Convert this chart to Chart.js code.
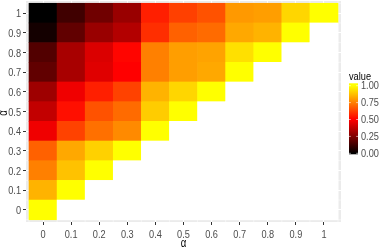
<!DOCTYPE html>
<html>
<head>
<meta charset="utf-8">
<script src="https://cdn.jsdelivr.net/npm/chart.js@4.4.1/dist/chart.umd.min.js"></script>
<style>
  html, body { margin: 0; padding: 0; background: #fff; }
</style>
</head>
<body>
<canvas id="heat" width="382" height="249"></canvas>
<script>
// alpha values on both axes
const alphas = [0, 0.1, 0.2, 0.3, 0.4, 0.5, 0.6, 0.7, 0.8, 0.9, 1];
const alphaLabels = ['0', '0.1', '0.2', '0.3', '0.4', '0.5', '0.6', '0.7', '0.8', '0.9', '1'];

// cell values per row (y = alpha), left to right from x = 0
const row00 = [1.00];
const row01 = [0.85, 1.00];
const row02 = [0.75, 0.88, 1.00];
const row03 = [0.69, 0.83, 0.91, 1.00];
const row04 = [0.47, 0.63, 0.72, 0.77, 1.00];
const row05 = [0.38, 0.53, 0.66, 0.71, 0.90, 1.00];
const row06 = [0.31, 0.47, 0.56, 0.63, 0.85, 0.92, 1.00];
const row07 = [0.19, 0.33, 0.44, 0.50, 0.75, 0.81, 0.83, 1.00];
const row08 = [0.16, 0.33, 0.43, 0.51, 0.75, 0.81, 0.82, 0.94, 1.00];
const row09 = [0.04, 0.19, 0.30, 0.35, 0.59, 0.69, 0.71, 0.83, 0.85, 1.00];
const row10 = [0.00, 0.125, 0.22, 0.30, 0.56, 0.625, 0.66, 0.80, 0.81, 0.92, 1.00];
const rows = [row00, row01, row02, row03, row04, row05, row06, row07, row08, row09, row10];

// colour bar
const legendTicks = [0, 0.25, 0.5, 0.75, 1];

const FONT = "'Liberation Sans', Arial, sans-serif";
const NARROW = 0.8;   // the original text is a narrow face
Chart.defaults.font.family = FONT;

// black -> red -> yellow
function heatColor(v) {
    let r, g;
    if (v < 0.5) { r = Math.round(510 * v); g = 0; }
    else { r = 255; g = Math.round(510 * (v - 0.5)); }
    return 'rgb(' + r + ',' + g + ',0)';
}

// squeezed text, since no narrow font is installed
function narrowText(ctx, text, x, y, align, rot) {
    ctx.save();
    ctx.translate(x, y);
    if (rot) ctx.rotate(rot);
    ctx.scale(NARROW, 1);
    ctx.textAlign = align;
    ctx.fillText(text, 0, 0);
    ctx.restore();
}

const datasets = rows.map((vals, j) => ({
    data: alphas.map((x, i) => ({
        x: x,
        y: [alphas[j] - 0.05, alphas[j] + 0.05],
        v: i < vals.length ? vals[i] : null
    })),
    backgroundColor: ctx => (ctx.raw && ctx.raw.v != null) ? heatColor(ctx.raw.v) : '#FFFFFF',
    borderWidth: 0,
    grouped: false,
    barPercentage: 1,
    categoryPercentage: 1
}));

// grey panel, minor grid lines, axis text and the colour bar legend
const panelPlugin = {
    id: 'panel',
    beforeDraw(chart) {
        const { ctx, chartArea: a, scales } = chart;
        ctx.save();
        ctx.fillStyle = '#FFFFFF';
        ctx.fillRect(0, 0, chart.width, chart.height);
        ctx.fillStyle = '#EBEBEB';
        ctx.fillRect(a.left, a.top, a.right - a.left, a.bottom - a.top);
        ctx.strokeStyle = '#FFFFFF';
        ctx.lineWidth = 0.5;
        for (let k = 0; k <= alphas.length; k++) {
            const m = -0.05 + k * 0.1;
            const px = scales.x.getPixelForValue(m);
            const py = scales.y.getPixelForValue(m);
            ctx.beginPath();
            ctx.moveTo(px, a.top); ctx.lineTo(px, a.bottom);
            ctx.moveTo(a.left, py); ctx.lineTo(a.right, py);
            ctx.stroke();
        }
        ctx.restore();
    },
    afterDraw(chart) {
        const { ctx, chartArea: a, scales } = chart;
        ctx.save();

        // tick labels
        ctx.font = '11.5px ' + FONT;
        ctx.fillStyle = '#4D4D4D';
        ctx.textBaseline = 'middle';
        alphas.forEach((v, i) => {
            narrowText(ctx, alphaLabels[i], scales.x.getPixelForValue(v), 234.5, 'center');
            narrowText(ctx, alphaLabels[i], 21, scales.y.getPixelForValue(v) + 1, 'right');
        });

        // axis titles
        ctx.fillStyle = '#000000';
        ctx.font = '12px ' + FONT;
        narrowText(ctx, 'α', (a.left + a.right) / 2, 243.5, 'center');
        narrowText(ctx, 'α', 4, (a.top + a.bottom) / 2 + 1.5, 'center', -Math.PI / 2);

        // colour bar
        const bx = 349, bw = 9, bTop = 83.3, bBot = 154.3;
        const y1 = 85.7, y0 = 153.3;
        const grad = ctx.createLinearGradient(0, y0, 0, y1);
        for (let s = 0; s <= 20; s++) grad.addColorStop(s / 20, heatColor(s / 20));
        ctx.fillStyle = grad;
        ctx.fillRect(bx, bTop, bw, bBot - bTop);

        ctx.fillStyle = '#000000';
        ctx.font = '11.5px ' + FONT;
        ctx.textBaseline = 'alphabetic';
        narrowText(ctx, 'value', bx, 80, 'left');

        ctx.fillStyle = '#4D4D4D';
        ctx.textBaseline = 'middle';
        ctx.strokeStyle = '#FFFFFF';
        ctx.lineWidth = 0.6;
        legendTicks.forEach(t => {
            const y = y0 + (y1 - y0) * t;
            ctx.beginPath();
            ctx.moveTo(bx, y); ctx.lineTo(bx + 1.8, y);
            ctx.moveTo(bx + bw - 1.8, y); ctx.lineTo(bx + bw, y);
            ctx.stroke();
            narrowText(ctx, t.toFixed(2), 361, y + 0.5, 'left');
        });
        ctx.restore();
    }
};

new Chart(document.getElementById('heat'), {
    type: 'bar',
    data: { datasets: datasets },
    plugins: [panelPlugin],
    options: {
        responsive: false,
        animation: false,
        events: [],
        layout: { padding: { top: 1, right: 41, bottom: 0, left: 0 } },
        plugins: { legend: { display: false }, tooltip: { enabled: false } },
        scales: {
            x: {
                type: 'linear',
                min: -0.0607, max: 1.0607,
                offset: false,
                afterBuildTicks: s => { s.ticks = alphas.map(v => ({ value: v })); },
                afterFit: s => { s.height = 27; },
                ticks: { display: false },
                grid: { offset: false, color: '#FFFFFF', lineWidth: 1, tickColor: '#333333', tickLength: 3 },
                border: { display: false }
            },
            y: {
                type: 'linear',
                min: -0.0615, max: 1.0615,
                afterBuildTicks: s => { s.ticks = alphas.map(v => ({ value: v })); },
                afterFit: s => { s.width = 26; },
                ticks: { display: false },
                grid: { color: '#FFFFFF', lineWidth: 1, tickColor: '#333333', tickLength: 3 },
                border: { display: false }
            }
        }
    }
});
</script>
</body>
</html>
